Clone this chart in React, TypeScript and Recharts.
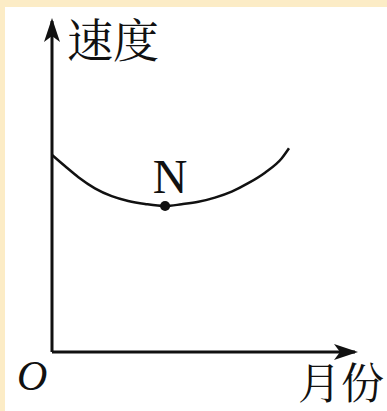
import { LineChart, Line, XAxis, YAxis, ReferenceDot, Label } from 'recharts';

// curve (arbitrary units)
const months = [0, 0.43, 0.88, 1.43, 1.99, 2.54, 3.1, 3.77, 4.32, 4.88, 5.43, 5.99, 6.54, 7.1, 7.66, 7.9];
const speed = [6.55, 6.18, 5.81, 5.44, 5.18, 5.02, 4.92, 4.85, 4.91, 4.99, 5.13, 5.33, 5.61, 5.96, 6.44, 6.77];
const pointN = { month: 3.77, speed: 4.85, name: 'N' };

const yTitle = '速度';
const xTitle = '月份';
const origin = 'O';

const data = months.map((m, i) => ({ month: m, speed: speed[i] }));

const CJK = "'Noto Serif CJK SC', 'Noto Sans CJK SC', serif";
const SERIF = "'Liberation Serif', 'Times New Roman', serif";
const INK = '#111';

export default function App() {
  return (
    <div style={{ position: 'fixed', left: 0, top: 0, width: 387, height: 411, background: '#fcecc6' }}>
      <svg width={0} height={0} style={{ position: 'absolute' }}>
        <defs>
          <marker id="arrow" markerUnits="userSpaceOnUse" markerWidth={24} markerHeight={18}
            viewBox="0 0 24 18" refX={21} refY={9} orient="auto-start-reverse">
            <path d="M0,1 L24,9 L0,17 L6,9 Z" fill={INK} />
          </marker>
        </defs>
      </svg>
      {/* white paper inside the cream frame */}
      <div style={{ position: 'absolute', left: 5, top: 7, width: 382, height: 404, background: '#fff' }} />
      <div style={{ position: 'absolute', left: 0, top: 0 }}>
        <LineChart width={387} height={411} data={data} margin={{ top: 21, right: 32, bottom: 29, left: 42 }}>
          <XAxis type="number" dataKey="month" domain={[0, 10.1]} height={30} tick={false} tickLine={false}
            axisLine={{ stroke: INK, strokeWidth: 3, markerEnd: 'url(#arrow)' }}>
            <Label content={({ viewBox }: any) => (
              <g>
                <text x={viewBox.x + 246} y={viewBox.y + 47} fontSize={43} fontFamily={CJK} fill={INK}>{xTitle}</text>
                <text x={viewBox.x - 35} y={viewBox.y + 38} fontSize={42} fontStyle="italic" fontFamily={SERIF} fill={INK}>{origin}</text>
              </g>
            )} />
          </XAxis>
          <YAxis type="number" domain={[0, 11]} width={10} tick={false} tickLine={false}
            axisLine={{ stroke: INK, strokeWidth: 3, markerStart: 'url(#arrow)' }}>
            <Label content={({ viewBox }: any) => (
              <text x={viewBox.x + viewBox.width + 15} y={viewBox.y + 36} fontSize={46} fontFamily={CJK} fill={INK}>{yTitle}</text>
            )} />
          </YAxis>
          <Line type="monotone" dataKey="speed" stroke={INK} strokeWidth={2.5} dot={false} isAnimationActive={false} />
          <ReferenceDot x={pointN.month} y={pointN.speed} r={5} fill={INK} stroke="none">
            <Label content={({ viewBox }: any) => (
              <text x={viewBox.x + viewBox.width / 2 + 5} y={viewBox.y - 8} textAnchor="middle" fontSize={48} fontFamily={SERIF} fill={INK}>{pointN.name}</text>
            )} />
          </ReferenceDot>
        </LineChart>
      </div>
    </div>
  );
}
